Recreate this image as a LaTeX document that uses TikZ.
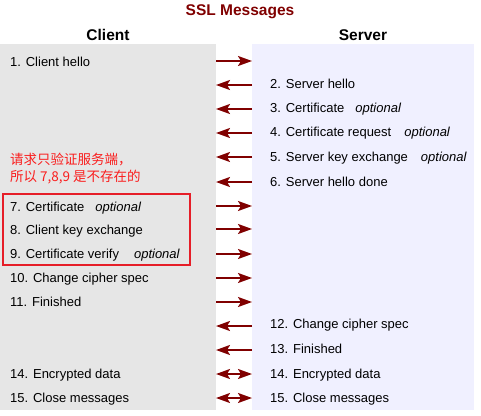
\documentclass[tikz,border=0pt]{standalone}
\usepackage{fontspec}
\setmainfont{Liberation Sans}
\newfontfamily\cjk{Noto Sans CJK SC}
\usetikzlibrary{arrows.meta}

\definecolor{sslred}{RGB}{128,0,0}
\definecolor{clientbg}{RGB}{230,230,230}
\definecolor{serverbg}{RGB}{240,240,255}
\definecolor{notered}{RGB}{250,30,30}
\definecolor{boxred}{RGB}{230,30,40}

\begin{document}
\begin{tikzpicture}[
  x=1pt, y=-1pt,
  msg/.style={anchor=west, inner sep=0pt, text height=9.4pt, text depth=0pt, font=\fontsize{13}{15}\selectfont},
  heading/.style={inner sep=0pt, font=\bfseries\fontsize{15.5}{18}\selectfont},
  note/.style={anchor=west, inner sep=0pt, text=notered, font=\cjk\fontsize{13.5}{16}\selectfont},
  tip/.tip={Stealth[length=14pt, width=10pt, inset=3pt]},
  send/.style={draw=sslred, line width=2pt, -tip},
  both/.style={draw=sslred, line width=2pt, tip-tip}
]
  \useasboundingbox (0,0) rectangle (481,415);

  % the two sides
  \fill[clientbg] (0,44) rectangle (216,410);
  \fill[serverbg] (252,44) rectangle (474,410);

  \node[heading, text=sslred] (title) at (240,12) {SSL Messages};
  \node[heading] (client) at (108,35) {Client};
  \node[heading] (server) at (363,35) {Server};

  % arrow ends for every row
  \foreach \row/\y in {1/61,2/85,3/109,4/133,5/157,6/182,7/206,8/229,9/254,
                       10/278,11/302,12/326,13/350,14/374,15/398} {
    \coordinate (c\row) at (216,\y);
    \coordinate (s\row) at (252,\y);
  }

  % client messages
  \node[msg] (m1)  at (10,62)  {1. Client hello};
  \node[msg] (m7)  at (10,207) {7. Certificate\hspace{11pt}\textit{optional}};
  \node[msg] (m8)  at (10,230) {8. Client key exchange};
  \node[msg] (m9)  at (10,254) {9. Certificate verify\hspace{15pt}\textit{optional}};
  \node[msg] (m10) at (10,278) {10. Change cipher spec};
  \node[msg] (m11) at (10,302) {11. Finished};
  \node[msg] (m14c) at (10,374) {14. Encrypted data};
  \node[msg] (m15c) at (10,398) {15. Close messages};

  % server messages
  \node[msg] (m2)  at (270,84)  {2. Server hello};
  \node[msg] (m3)  at (270,108) {3. Certificate\hspace{11pt}\textit{optional}};
  \node[msg] (m4)  at (270,132) {4. Certificate request\hspace{13pt}\textit{optional}};
  \node[msg] (m5)  at (270,157) {5. Server key exchange\hspace{13pt}\textit{optional}};
  \node[msg] (m6)  at (270,182) {6. Server hello done};
  \node[msg] (m12) at (270,324) {12. Change cipher spec};
  \node[msg] (m13) at (270,349) {13. Finished};
  \node[msg] (m14s) at (270,374) {14. Encrypted data};
  \node[msg] (m15s) at (270,398) {15. Close messages};

  % remark on the client certificate
  \node[note] (note1) at (10,160) {请求只验证服务端，};
  \node[note] (note2) at (10,177) {所以 7,8,9 是不存在的};
  \draw[boxred, line width=2.3pt] (3,194) rectangle (190,265);

  % client to server
  \foreach \row in {1,7,8,9,10,11}
    \draw[send] (c\row) -- (s\row);
  % server to client
  \foreach \row in {2,3,4,5,6,12,13}
    \draw[send] (s\row) -- (c\row);
  % both ways
  \draw[both] (c14) -- (s14);
  \draw[both] (c15) -- (s15);
\end{tikzpicture}
\end{document}
